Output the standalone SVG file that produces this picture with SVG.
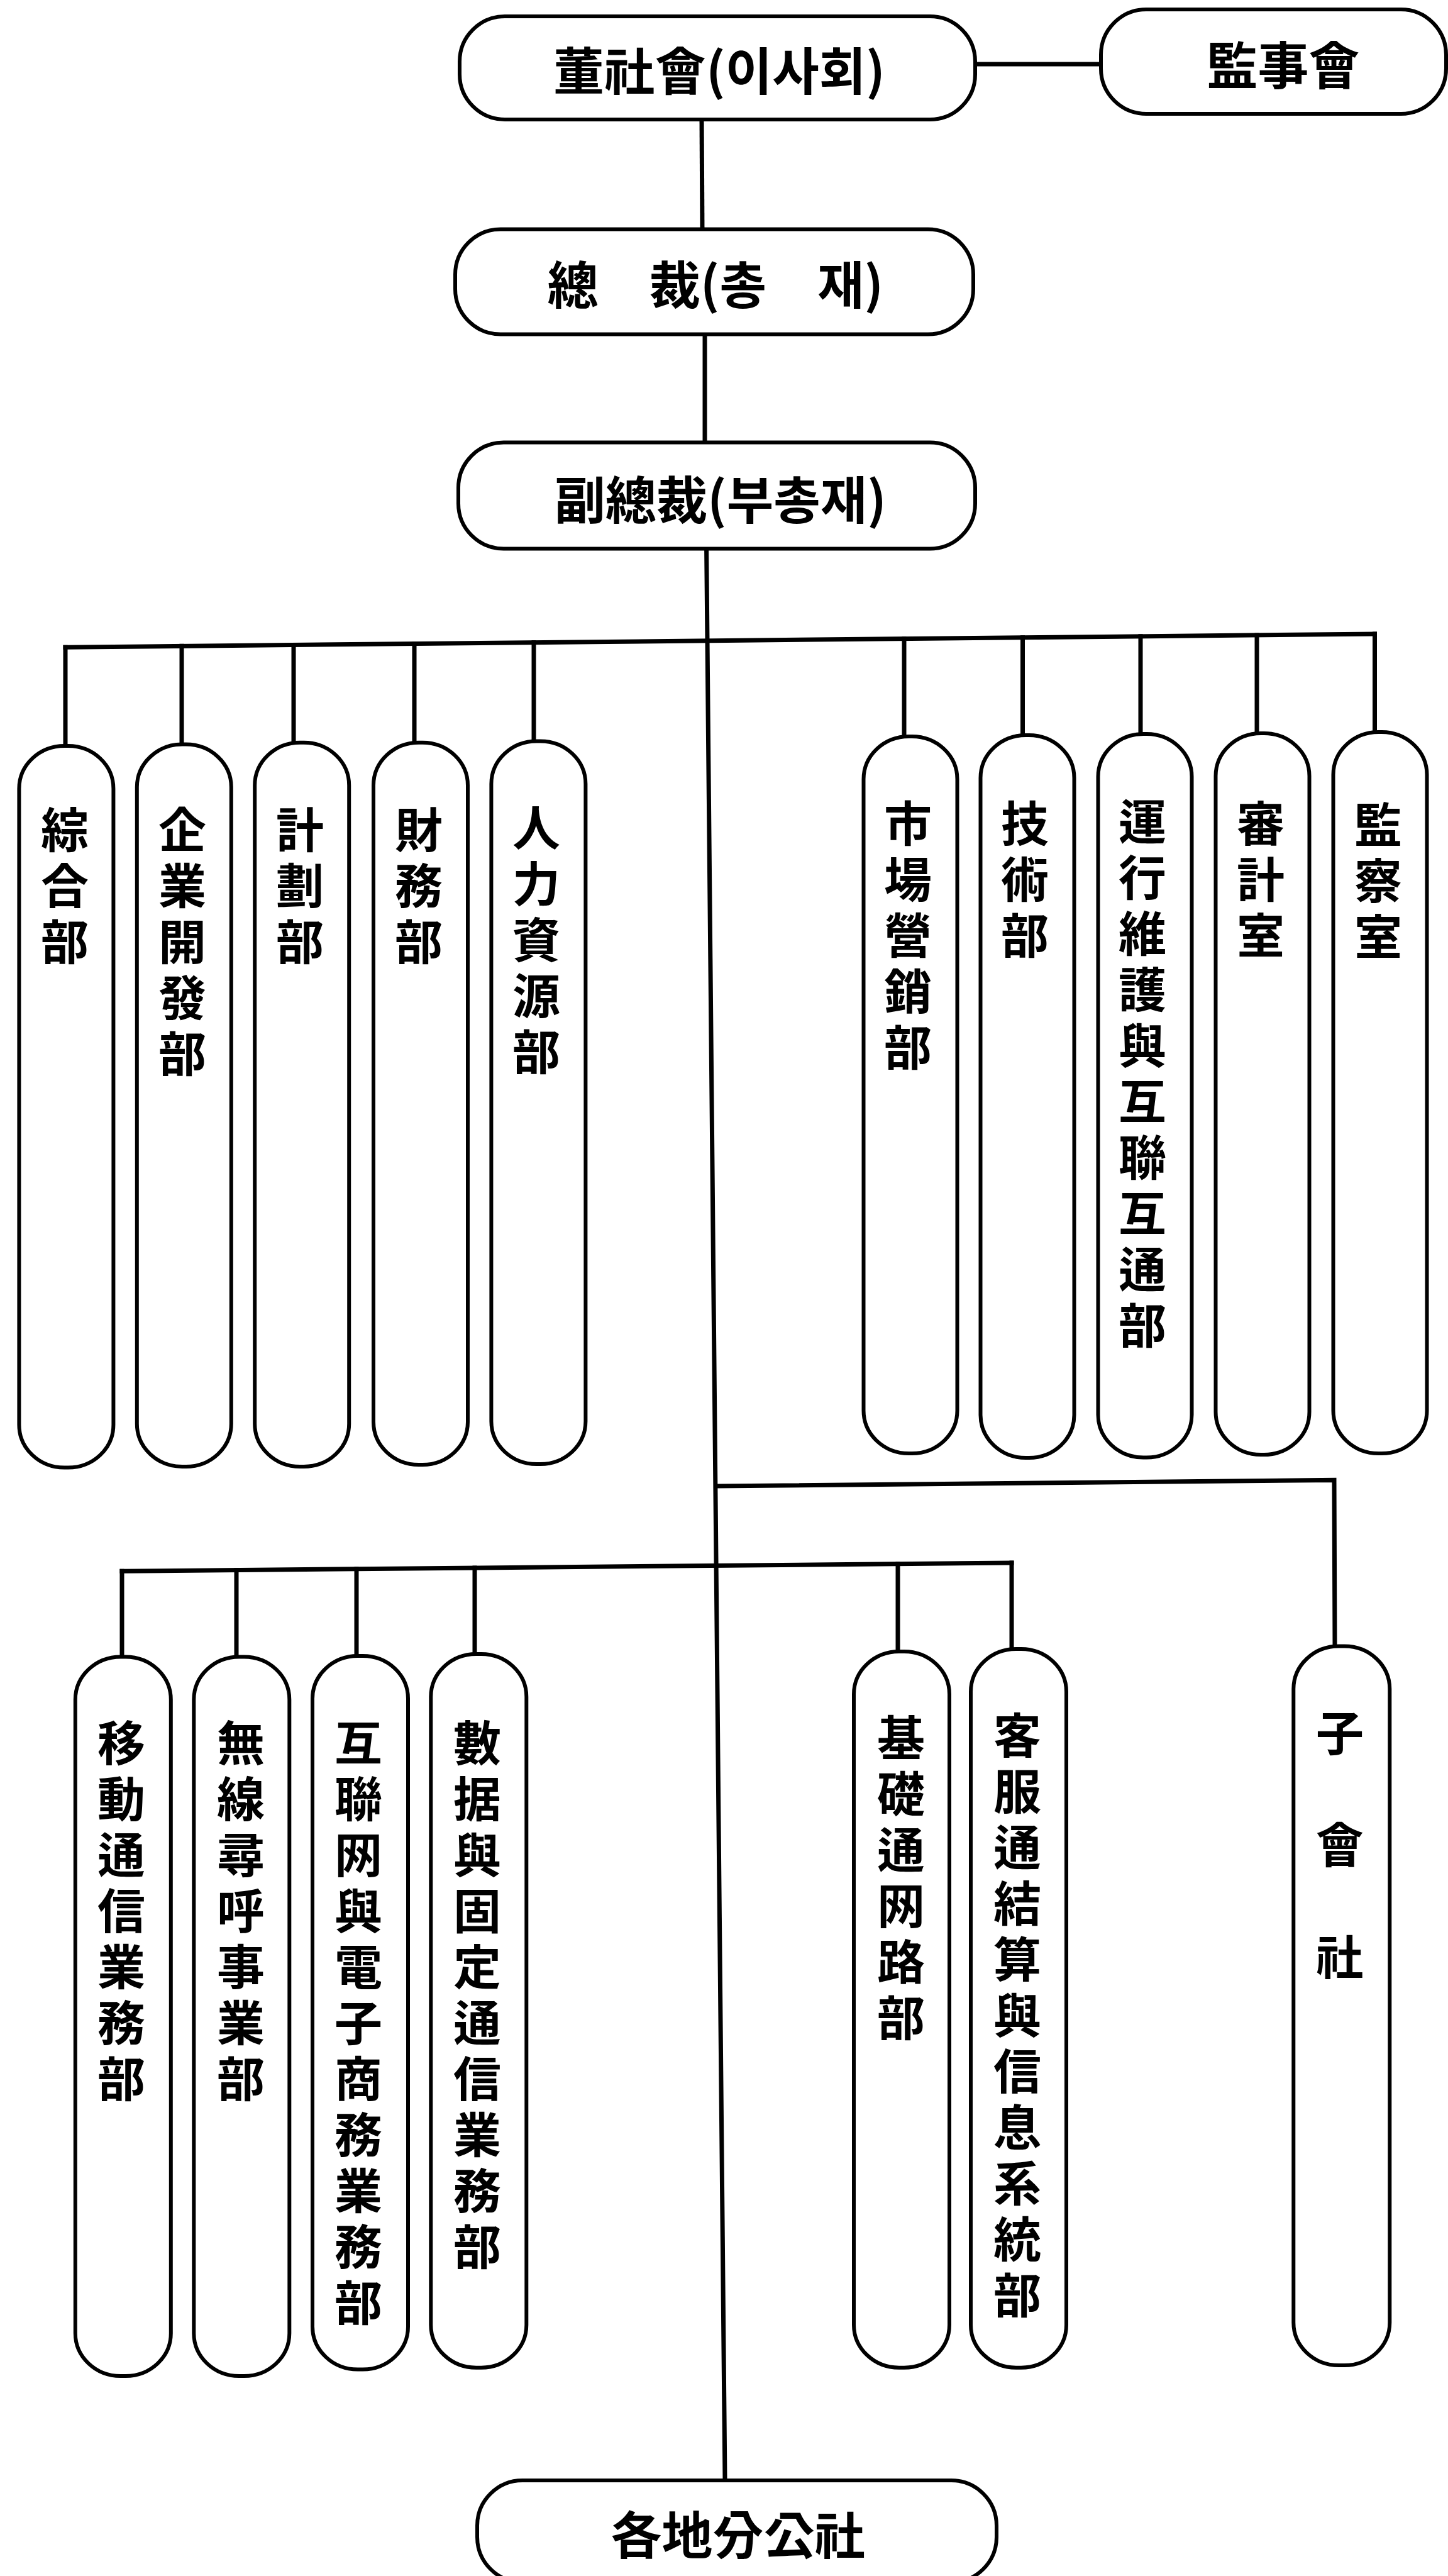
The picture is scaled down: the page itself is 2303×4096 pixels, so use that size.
<svg xmlns="http://www.w3.org/2000/svg" width="2303" height="4096" viewBox="0 0 2303 4096">
<style>
.bx{fill:#fff;stroke:#000;stroke-width:6}
.ln{fill:none;stroke:#000;stroke-width:7;stroke-linecap:square}
.h{font-family:"Noto Sans CJK KR","Noto Sans CJK TC",sans-serif;font-size:81px;font-weight:700;text-anchor:middle;fill:#000}
.v{font-family:"Noto Sans CJK KR","Noto Sans CJK TC",sans-serif;font-size:76px;font-weight:700;fill:#000;writing-mode:vertical-rl;text-orientation:upright;letter-spacing:13px}
.w{letter-spacing:102px}
</style>
<rect x="0" y="0" width="2303" height="4096" fill="#fff"/>
<g id="connectors">
<line class="ln" x1="1551" y1="102" x2="1751" y2="102"/>
<line class="ln" x1="1116" y1="190" x2="1117" y2="364"/>
<line class="ln" x1="1121" y1="531" x2="1121" y2="703"/>
<line class="ln" x1="1123.6" y1="872" x2="1153" y2="3944"/>
<line class="ln" x1="104" y1="1029.2" x2="2186.5" y2="1008"/>
<line class="ln" x1="104" y1="1029.2" x2="104" y2="1186"/>
<line class="ln" x1="289" y1="1027.3" x2="289" y2="1183.6"/>
<line class="ln" x1="467" y1="1025.5" x2="467" y2="1180.7"/>
<line class="ln" x1="659" y1="1023.5" x2="659" y2="1180.7"/>
<line class="ln" x1="849" y1="1021.6" x2="849" y2="1178.5"/>
<line class="ln" x1="1438" y1="1015.6" x2="1438" y2="1171"/>
<line class="ln" x1="1626.5" y1="1013.7" x2="1626.5" y2="1169"/>
<line class="ln" x1="1814" y1="1011.8" x2="1814" y2="1167"/>
<line class="ln" x1="1999" y1="1009.9" x2="1999" y2="1166"/>
<line class="ln" x1="2186.5" y1="1008" x2="2186.5" y2="1164"/>
<polyline class="ln" points="1140.5,2363 2122,2353.4 2123,2617.6"/>
<line class="ln" x1="194" y1="2498.3" x2="1609" y2="2485"/>
<line class="ln" x1="194" y1="2498.3" x2="194" y2="2634.5"/>
<line class="ln" x1="376" y1="2496.6" x2="376" y2="2634.5"/>
<line class="ln" x1="567" y1="2494.8" x2="567" y2="2633"/>
<line class="ln" x1="755" y1="2493" x2="755" y2="2630"/>
<line class="ln" x1="1428" y1="2486.7" x2="1428" y2="2626"/>
<line class="ln" x1="1609" y1="2485" x2="1609" y2="2622"/>
</g>
<g id="n-board"><rect class="bx" x="731" y="26" width="820" height="164" rx="72" ry="72"/><text class="h" x="1144" y="143">董社會(이사회)</text></g>
<g id="n-supervisors"><rect class="bx" x="1751" y="15" width="549" height="166" rx="72" ry="72"/><text class="h" x="2041" y="134">監事會</text></g>
<g id="n-president"><rect class="bx" x="724" y="364.5" width="824" height="167" rx="72" ry="72"/><text class="h" x="1138" y="483">總　裁(총　재)</text></g>
<g id="n-vp"><rect class="bx" x="729" y="703.5" width="822" height="169" rx="72" ry="72"/><text class="h" x="1146" y="825">副總裁(부총재)</text></g>
<g id="n-d1"><rect class="bx" x="30.4" y="1186" width="150" height="1147.6" rx="72" ry="68"/><text class="v" x="103" y="1281">綜合部</text></g>
<g id="n-d2"><rect class="bx" x="217.8" y="1183.6" width="150" height="1148.4" rx="72" ry="68"/><text class="v" x="290" y="1281">企業開發部</text></g>
<g id="n-d3"><rect class="bx" x="405.2" y="1180.7" width="150" height="1151.3" rx="72" ry="68"/><text class="v" x="477" y="1281">計劃部</text></g>
<g id="n-d4"><rect class="bx" x="594" y="1180.7" width="150" height="1148.3" rx="72" ry="68"/><text class="v" x="666" y="1281">財務部</text></g>
<g id="n-d5"><rect class="bx" x="781.4" y="1178.5" width="150" height="1149.5" rx="72" ry="68"/><text class="v" x="853" y="1278">人力資源部</text></g>
<g id="n-d6"><rect class="bx" x="1373.5" y="1171" width="149" height="1140" rx="72" ry="68"/><text class="v" x="1444" y="1271">市場營銷部</text></g>
<g id="n-d7"><rect class="bx" x="1559.5" y="1169" width="149" height="1149" rx="72" ry="68"/><text class="v" x="1630" y="1271">技術部</text></g>
<g id="n-d8"><rect class="bx" x="1746.5" y="1167" width="149" height="1150.5" rx="72" ry="68"/><text class="v" x="1817" y="1268">運行維護與互聯互通部</text></g>
<g id="n-d9"><rect class="bx" x="1933.5" y="1166" width="149" height="1147" rx="72" ry="68"/><text class="v" x="2005" y="1271">審計室</text></g>
<g id="n-d10"><rect class="bx" x="2120.5" y="1164" width="149" height="1147" rx="72" ry="68"/><text class="v" x="2192" y="1273">監察室</text></g>
<g id="n-d11"><rect class="bx" x="119.8" y="2634.5" width="152" height="1143.5" rx="72" ry="68"/><text class="v" x="193" y="2733">移動通信業務部</text></g>
<g id="n-d12"><rect class="bx" x="308.3" y="2634.5" width="152" height="1143.5" rx="72" ry="68"/><text class="v" x="383" y="2733">無線尋呼事業部</text></g>
<g id="n-d13"><rect class="bx" x="497" y="2633" width="152" height="1134.6" rx="72" ry="68"/><text class="v" x="570" y="2733">互聯网與電子商務業務部</text></g>
<g id="n-d14"><rect class="bx" x="685.3" y="2630" width="152" height="1134.7" rx="72" ry="68"/><text class="v" x="759" y="2733">數据與固定通信業務部</text></g>
<g id="n-d15"><rect class="bx" x="1358" y="2626" width="152" height="1138.7" rx="72" ry="68"/><text class="v" x="1433" y="2725">基礎通网路部</text></g>
<g id="n-d16"><rect class="bx" x="1544" y="2622" width="152" height="1142.7" rx="72" ry="68"/><text class="v" x="1618" y="2721">客服通結算與信息系統部</text></g>
<g id="n-sub"><rect class="bx" x="2057.3" y="2617.6" width="153" height="1143.4" rx="72" ry="68"/><text class="v w" x="2131" y="2717">子會社</text></g>
<g id="n-branches"><rect class="bx" x="759" y="3944" width="826" height="162" rx="72" ry="72"/><text class="h" x="1174" y="4061" font-size="80">各地分公社</text></g>
</svg>
